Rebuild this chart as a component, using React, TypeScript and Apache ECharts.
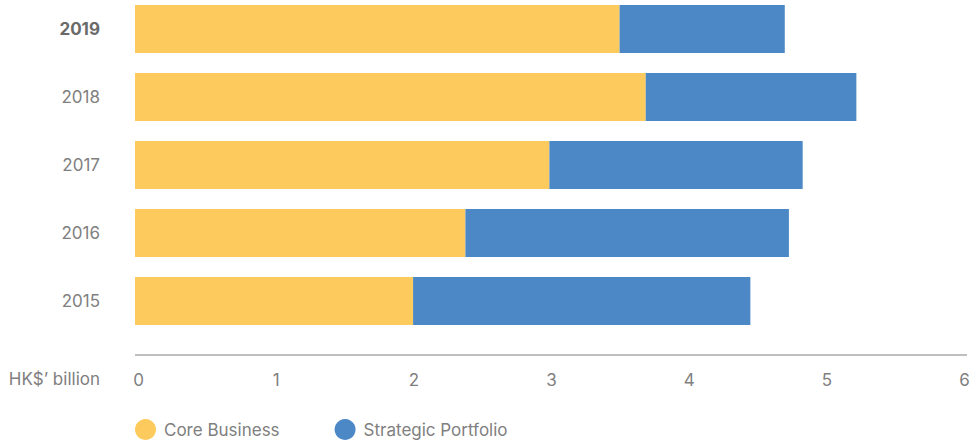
import React, { useEffect, useRef } from "react";
import * as echarts from "echarts";

const years = ["2015", "2016", "2017", "2018", "2019"];
const coreBusiness = [2.02, 2.4, 3.01, 3.71, 3.52];
const strategicPortfolio = [2.45, 2.35, 1.84, 1.53, 1.2];
const xTicks = [0, 1, 2, 3, 4, 5, 6];
const unitLabel = "HK$\u2019 billion";

const FONT = "Inter, 'Liberation Sans', Arial, sans-serif";
const GRAY = "#808080";
const FS = 17;

export default function App() {
  const ref = useRef<HTMLDivElement>(null);
  useEffect(() => {
    if (!ref.current) return;
    const chart = echarts.init(ref.current, undefined, { renderer: "svg" });
    chart.setOption({
      animation: false,
      textStyle: { fontFamily: FONT },
      grid: { left: 135, right: 19, top: 0, bottom: 106, containLabel: false },
      legend: {
        left: 135,
        top: 424,
        padding: 0,
        icon: "circle",
        itemWidth: 21,
        itemHeight: 21,
        itemGap: 55,
        textStyle: { fontSize: FS, color: GRAY, fontFamily: FONT, padding: [0, 0, 0, 3] },
        data: ["Core Business", "Strategic Portfolio"],
      },
      graphic: [
        {
          type: "line",
          shape: { x1: 135, y1: 360, x2: 967, y2: 360 },
          style: { stroke: "#aaaaaa", lineWidth: 1.5 },
          silent: true,
        },
        {
          type: "text",
          x: 100,
          y: 384,
          style: {
            text: unitLabel,
            fontSize: FS,
            fill: GRAY,
            fontFamily: FONT,
            align: "right",
            verticalAlign: "middle",
          },
        },
      ],
      xAxis: {
        type: "value",
        min: xTicks[0],
        max: xTicks[xTicks.length - 1],
        interval: 1,
        offset: 20,
        axisLine: { show: false },
        axisTick: { show: false },
        splitLine: { show: false },
        axisLabel: {
          fontSize: FS,
          color: GRAY,
          margin: 16,
          align: "center",
          padding: [0, 0, 0, 7],
          fontFamily: FONT,
        },
      },
      yAxis: {
        type: "category",
        data: years,
        axisLine: { show: false },
        axisTick: { show: false },
        axisLabel: {
          margin: 35,
          fontSize: FS,
          color: GRAY,
          fontFamily: FONT,
          formatter: (v: string) => (v === years[years.length - 1] ? `{b|${v}}` : v),
          rich: { b: { fontWeight: "bold", fontSize: FS, color: "#6a6a6a", fontFamily: FONT } },
        },
      },
      series: [
        {
          name: "Core Business",
          type: "bar",
          stack: "total",
          barWidth: 48,
          itemStyle: { color: "#FDCB5D" },
          data: coreBusiness,
        },
        {
          name: "Strategic Portfolio",
          type: "bar",
          stack: "total",
          barWidth: 48,
          itemStyle: { color: "#4C88C6" },
          data: strategicPortfolio,
        },
      ],
    });
    return () => chart.dispose();
  }, []);
  return <div ref={ref} style={{ width: 980, height: 446, position: "absolute", left: 0, top: -5 }} />;
}
